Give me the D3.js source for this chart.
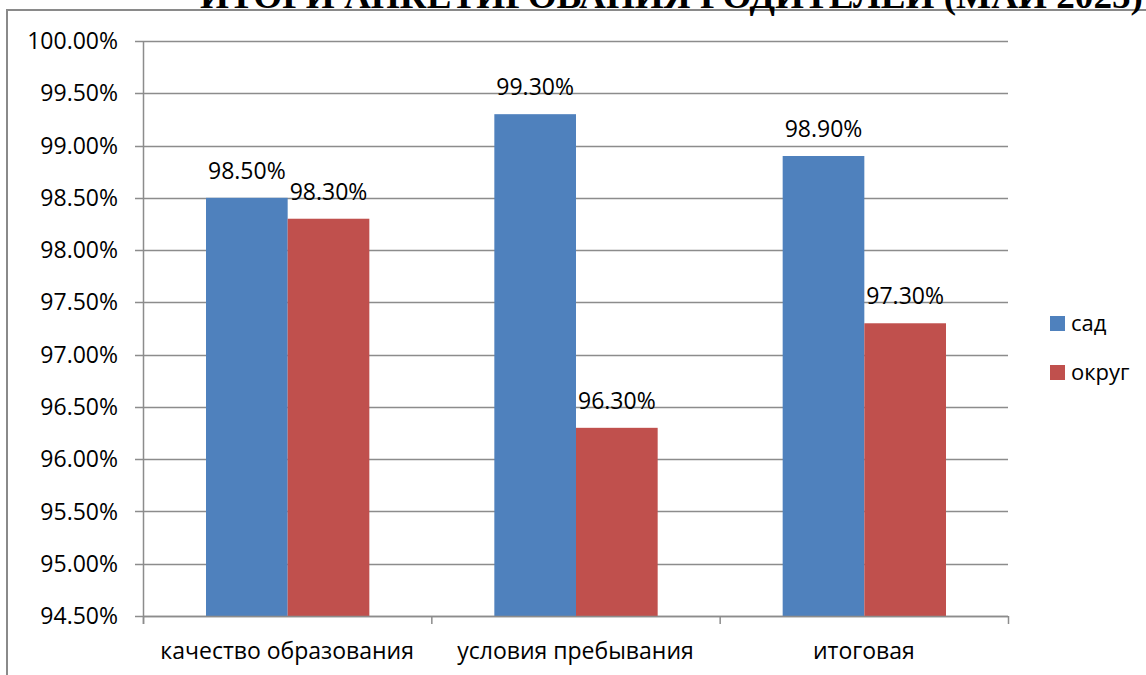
<!DOCTYPE html>
<html>
<head>
<meta charset="utf-8">
<script src="https://cdn.jsdelivr.net/npm/d3@7"></script>
<style>
  body { margin: 0; background: #fff; }
  text { font-family: "Open Sans", "Noto Sans", sans-serif; fill: #000; }
</style>
</head>
<body>
<div id="chart"></div>
<script>

// DATA
var title = "ИТОГИ АНКЕТИРОВАНИЯ РОДИТЕЛЕЙ (МАЙ 2025)";
var categories = ["качество образования", "условия пребывания", "итоговая"];
var seriesNames = ["сад", "округ"];
var sadValues = [98.5, 99.3, 98.9];
var okrugValues = [98.3, 96.3, 97.3];
var yTicks = [94.5, 95, 95.5, 96, 96.5, 97, 97.5, 98, 98.5, 99, 99.5, 100];
var colors = ["#4F81BD", "#C0504D"];

var W = 1146, H = 675;
// plot area edges (don't call these top/left, window.top is read-only)
var plotLeft = 143, plotRight = 1008, plotTop = 41, plotBottom = 616;

var svg = d3.select("#chart")
  .append("svg")
    .attr("width", W)
    .attr("height", H);

// outer chart frame (runs off the right and bottom edges)
svg.append("rect")
  .attr("x", 7)
  .attr("y", 10)
  .attr("width", W + 20)
  .attr("height", H + 20)
  .style("fill", "none")
  .style("stroke", "#8a8a8a")
  .style("stroke-width", 2);

// title, mostly cut off at the top
svg.append("text")
  .attr("x", 200)
  .attr("y", 8)
  .attr("textLength", 943)
  .attr("lengthAdjust", "spacingAndGlyphs")
  .style("font-family", "'Liberation Serif', 'DejaVu Serif', serif")
  .style("font-weight", "bold")
  .style("font-size", "35px")
  .text(title);

// scales
var y = d3.scaleLinear()
  .domain([94.5, 100])
  .range([plotBottom, plotTop]);

var x0 = d3.scaleBand()
  .domain(categories)
  .range([plotLeft, plotRight])
  .padding(0);

var x1 = d3.scaleBand()
  .domain(seriesNames)
  .range([63, x0.bandwidth() - 62])
  .padding(0);

// gridlines
svg.append("g")
  .selectAll("line")
  .data(yTicks)
  .enter()
  .append("line")
    .attr("x1", plotLeft - 8)
    .attr("x2", plotRight)
    .attr("y1", function(d) { return Math.round(y(d)) + 0.5; })
    .attr("y2", function(d) { return Math.round(y(d)) + 0.5; })
    .style("stroke", "#8c8c8c")
    .style("stroke-width", 1.5);

// y axis labels
svg.append("g")
  .selectAll("text")
  .data(yTicks)
  .enter()
  .append("text")
    .attr("x", 118)
    .attr("y", function(d) { return y(d); })
    .attr("dy", "0.35em")
    .attr("text-anchor", "end")
    .style("font-size", "23px")
    .text(function(d) { return d.toFixed(2) + "%"; });

// y axis line
svg.append("line")
  .attr("x1", plotLeft + 0.5).attr("x2", plotLeft + 0.5)
  .attr("y1", plotTop).attr("y2", plotBottom + 8)
  .style("stroke", "#8c8c8c")
  .style("stroke-width", 1.5);

// bars
var rows = categories.map(function(c, i) {
  return { cat: c, values: [
    { name: seriesNames[0], value: sadValues[i] },
    { name: seriesNames[1], value: okrugValues[i] }
  ]};
});

var groups = svg.append("g")
  .selectAll("g")
  .data(rows)
  .enter()
  .append("g")
    .attr("transform", function(d) { return "translate(" + x0(d.cat) + ",0)"; });

groups.selectAll("rect")
  .data(function(d) { return d.values; })
  .enter()
  .append("rect")
    .attr("x", function(d) { return x1(d.name); })
    .attr("y", function(d) { return y(d.value); })
    .attr("width", x1.bandwidth())
    .attr("height", function(d) { return plotBottom - y(d.value); })
    .style("fill", function(d, i) { return colors[i]; });

// value labels
groups.selectAll("text")
  .data(function(d) { return d.values; })
  .enter()
  .append("text")
    .attr("x", function(d) { return x1(d.name) + x1.bandwidth() / 2; })
    .attr("y", function(d) { return y(d.value) - 19; })
    .attr("text-anchor", "middle")
    .style("font-size", "23px")
    .text(function(d) { return d.value.toFixed(2) + "%"; });

// x axis line + ticks
svg.append("line")
  .attr("x1", plotLeft).attr("x2", plotRight)
  .attr("y1", plotBottom + 0.5).attr("y2", plotBottom + 0.5)
  .style("stroke", "#8c8c8c")
  .style("stroke-width", 1.5);

var tickXs = categories.map(function(c) { return x0(c); }).concat([plotRight]);
svg.append("g")
  .selectAll("line")
  .data(tickXs)
  .enter()
  .append("line")
    .attr("x1", function(d) { return d + 0.5; })
    .attr("x2", function(d) { return d + 0.5; })
    .attr("y1", plotBottom)
    .attr("y2", plotBottom + 8)
    .style("stroke", "#8c8c8c")
    .style("stroke-width", 1.5);

// category labels
svg.append("g")
  .selectAll("text")
  .data(categories)
  .enter()
  .append("text")
    .attr("x", function(d) { return x0(d) + x0.bandwidth() / 2; })
    .attr("y", 659)
    .attr("text-anchor", "middle")
    .style("font-size", "23px")
    .text(function(d) { return d; });

// legend
var legend = svg.append("g")
  .selectAll("g")
  .data(seriesNames)
  .enter()
  .append("g")
    .attr("transform", function(d, i) { return "translate(1050," + (316 + i * 49) + ")"; });

legend.append("rect")
  .attr("width", 15)
  .attr("height", 15)
  .style("fill", function(d, i) { return colors[i]; });

legend.append("text")
  .attr("x", 21)
  .attr("y", 7.5)
  .attr("dy", "0.35em")
  .style("font-size", "22px")
  .text(function(d) { return d; });

</script>
</body>
</html>
